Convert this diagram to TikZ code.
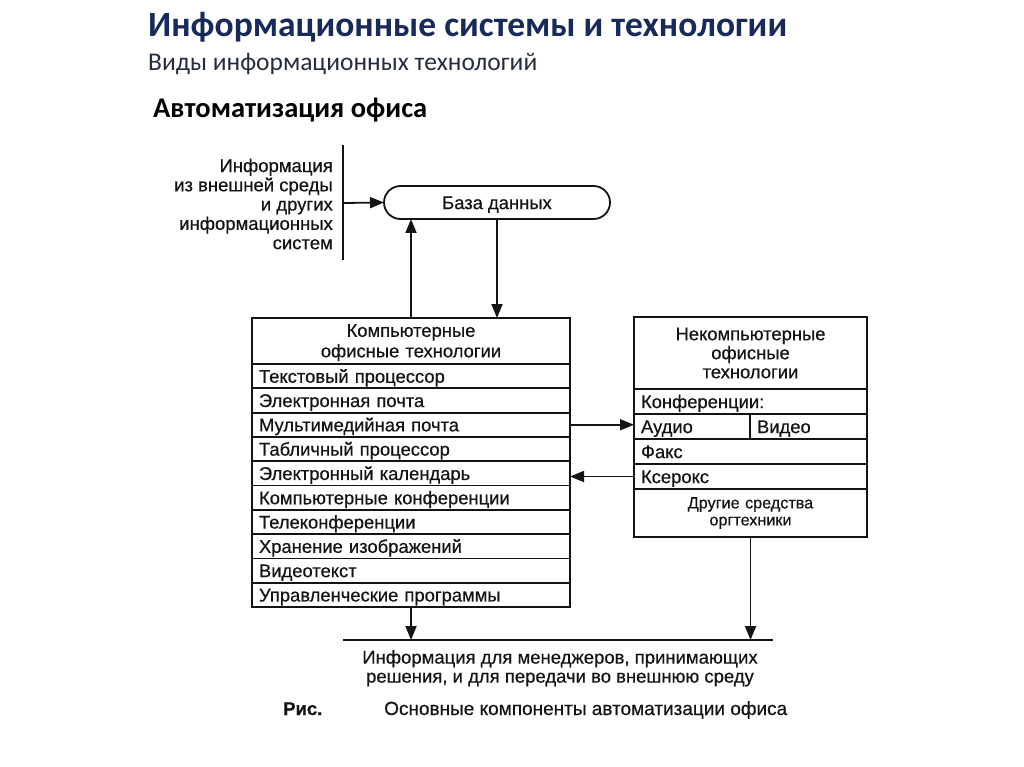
\documentclass[tikz,border=0pt]{standalone}
\usepackage{fontspec}
\setmainfont{Liberation Sans}[FakeBold=0.5]
\newfontfamily\calib{Carlito}
\usetikzlibrary{arrows.meta,calc}
\definecolor{titleblue}{RGB}{24,42,92}
\definecolor{subgray}{RGB}{40,44,64}
\definecolor{ink}{RGB}{20,20,20}
\begin{document}
\begin{tikzpicture}[x=1pt,y=-1pt,
  every node/.style={text=ink},
  cell/.style={draw=ink, line width=1.8pt, outer sep=0pt, rectangle, anchor=north west, inner xsep=7pt, inner ysep=0pt, font=\fontsize{18.4}{20}\selectfont, align=left},
  one/.style={text height=13.2pt, text depth=0pt},
  lrow/.style={cell, one, text width=304pt, minimum height=24.3pt},
  rrow/.style={cell, one, text width=219pt, minimum height=25pt},
  hcell/.style={cell, align=center},
  arr/.style={draw=ink, line width=1.8pt, -{Triangle[length=14pt,width=11pt]}},
  plain/.style={draw=ink, line width=1.8pt},
  lbl/.style={font=\fontsize{18.5}{19.3}\selectfont}
]
\fill[white] (0,0) rectangle (1024,767);
\useasboundingbox (0,0) rectangle (1024,767);

% titles
\node[anchor=base west, inner sep=0pt, text=titleblue, font=\calib\bfseries\fontsize{35.5}{40}\selectfont] (title) at (148,37) {Информационные системы и технологии};
\node[anchor=base west, inner sep=0pt, text=subgray, font=\calib\fontsize{25.5}{28}\selectfont] (subtitle) at (148,71) {Виды информационных технологий};
\node[anchor=base west, inner sep=0pt, text=black, font=\calib\bfseries\fontsize{28.5}{30}\selectfont] (heading) at (153,118) {Автоматизация офиса};

% left info
\draw[plain] (343,145) -- (343,260);
\coordinate (vl) at (343,203);
\node[lbl, anchor=east, align=right, inner sep=0pt] (info) at (333,204) {Информация\\из внешней среды\\и других\\информационных\\систем};

% database
\node[draw=ink, line width=1.8pt, outer sep=0pt, one, rounded corners=16.5pt, minimum width=226pt, minimum height=33pt, inner sep=0pt, font=\fontsize{18.4}{20}\selectfont] (db) at (497,202.5) {База данных};

% left box
\node[hcell, text width=304pt, minimum height=46pt, inner ysep=0pt, font=\fontsize{18.4}{20.5}\selectfont] (lhead) at (252,318) {\rule{0pt}{16pt}Компьютерные\\офисные технологии};
\node[lrow] (l1) at (252,364) {Текстовый процессор};
\node[lrow] (l2) at (l1.south west) {Электронная почта};
\node[lrow] (l3) at (l2.south west) {Мультимедийная почта};
\node[lrow] (l4) at (l3.south west) {Табличный процессор};
\node[lrow] (l5) at (l4.south west) {Электронный календарь};
\node[lrow] (l6) at (l5.south west) {Компьютерные конференции};
\node[lrow] (l7) at (l6.south west) {Телеконференции};
\node[lrow] (l8) at (l7.south west) {Хранение изображений};
\node[lrow] (l9) at (l8.south west) {Видеотекст};
\node[lrow] (l10) at (l9.south west) {Управленческие программы};

% right box
\node[hcell, text width=219pt, minimum height=72pt, font=\fontsize{18.4}{19}\selectfont] (rhead) at (634,317) {Некомпьютерные\\офисные\\технологии};
\node[rrow] (conf) at (rhead.south west) {Конференции:};
\node[cell, one, text width=102pt, minimum height=25pt] (audio) at (conf.south west) {Аудио};
\node[cell, one, text width=103pt, minimum height=25pt] (video) at (audio.north east) {Видео};
\node[rrow] (fax) at (audio.south west) {Факс};
\node[rrow] (xer) at (fax.south west) {Ксерокс};
\node[hcell, text width=219pt, minimum height=48pt, font=\fontsize{16.2}{17}\selectfont] (other) at (xer.south west) {Другие средства\\оргтехники};

% connectors
\draw[arr] (vl) -- (db.west);
\draw[arr] (lhead.north) -- (lhead.north |- db.south);
\draw[arr] (db.south) -- (db.south |- lhead.north);
\draw[arr] (l3.east) -- (l3.east -| audio.west);
\draw[arr] (xer.west) -- (xer.west -| l5.east);

\coordinate (bl) at (343,640);
\coordinate (br) at (773,640);
\draw[plain] (bl) -- (br);
\draw[arr] (l10.south) -- (l10.south |- bl);
\draw[arr] (other.south) -- (other.south |- bl);

\node[font=\fontsize{18.5}{19}\selectfont, align=center, anchor=north, inner sep=0pt] (out) at (560,650) {Информация для менеджеров, принимающих\\решения, и для передачи во внешнюю среду};

\node[anchor=base west, inner sep=0pt, font=\bfseries\fontsize{18.5}{19}\selectfont] (ris) at (283,715) {Рис.};
\node[anchor=base west, inner sep=0pt, font=\fontsize{19}{19}\selectfont] (caption) at (384,715) {Основные компоненты автоматизации офиса};
\end{tikzpicture}
\end{document}
